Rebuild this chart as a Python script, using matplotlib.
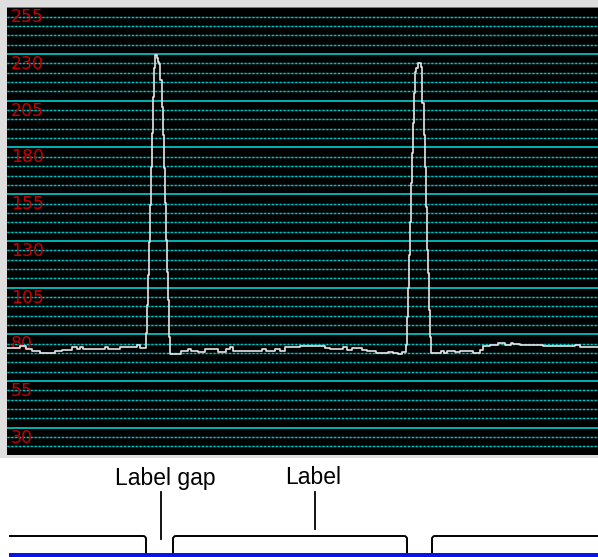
import numpy as np
import matplotlib
matplotlib.use("Agg")
import matplotlib.pyplot as plt
from matplotlib.path import Path
from matplotlib.patches import PathPatch, Rectangle

# signal trace: sample index where a level starts, and the level
trace_t = [0, 13, 19, 25, 33, 48, 55, 65, 70, 73, 76, 98, 101, 113, 130, 133,
           139, 140, 141, 142, 143, 144, 145, 146, 147, 148, 150, 151, 152, 153,
           155, 156, 157, 158, 159, 160, 161, 162, 163,
           174, 181, 184, 191, 198, 211, 219, 223, 226, 255, 259, 268, 273, 278,
           293, 318, 323, 336, 340, 345, 355, 360, 369, 381, 386, 391, 395, 399,
           400, 401, 402, 403, 404, 405, 406, 407, 408, 409, 411, 414, 415, 417,
           418, 419, 420, 421, 422, 423, 424,
           434, 437, 440, 448, 453, 466, 473, 476, 483, 491, 498, 504, 506, 513,
           528, 536, 541, 568, 573, 591]
trace_v = [72.6, 73.7, 72.1, 71.0, 70.0, 71.0, 71.6, 73.2, 72.1, 73.2, 72.1, 73.2, 72.1, 73.2, 74.3, 72.6,
           80.7, 95.7, 111.7, 129.4, 149.2, 169.5, 187.7, 207.0, 222.5, 229.5, 227.9, 225.7, 224.6, 216.1,
           201.6, 186.7, 169.0, 150.3, 130.5, 113.4, 98.4, 78.6, 69.4,
           71.0, 72.4, 71.0, 70.5, 72.1, 70.8, 72.1, 73.2, 71.3, 72.4, 71.3, 72.4, 71.3, 73.2,
           74.0, 72.9, 72.4, 73.2, 71.8, 72.6, 71.8, 71.3, 70.0, 70.5, 70.0, 69.2, 70.5, 74.3,
           89.2, 104.8, 122.4, 140.1, 161.0, 177.0, 193.1, 209.1, 220.4, 222.5, 225.2, 223.0, 203.8, 186.7,
           169.5, 148.1, 125.1, 112.8, 93.0, 78.6, 70.0,
           71.0, 70.0, 71.0, 70.5, 71.3, 70.2, 71.6, 73.7, 74.3, 75.1, 74.5, 75.6, 74.8, 74.3,
           74.5, 73.5, 73.7, 74.5, 73.2, 73.2]

major_levels = list(range(30, 256, 25))
minor_levels = [v for v in range(20, 255, 5) if v not in major_levels]

# label strip below the chart
tab_spans = [(-10, 139), (166, 400), (425, 620)]
notes = [("Label gap", 154, 158, 539), ("Label", 308, 306, 529)]

W, H = 598, 557
fig = plt.figure(figsize=(W / 100, H / 100), dpi=100)
fig.patch.set_facecolor("white")

# grey frame around the scope panel
fig.patches.append(Rectangle((0, (H - 458) / H), 1, 458 / H, transform=fig.transFigure,
                             facecolor="#dedede", edgecolor="none", zorder=-1))

ax = fig.add_axes([7 / W, (H - 455) / H, 591 / W, 448 / H])
ax.set_zorder(2)
ax.set_facecolor("black")
ax.set_xlim(0, 591)
ax.set_ylim(15.4, 255.2)
ax.set_xticks([])
ax.set_yticks([])
for s in ax.spines.values():
    s.set_visible(False)

for v in minor_levels:
    ax.axhline(v, color="#004c4c", lw=1.0, zorder=1)
    ax.axhline(v, color="#00c8c8", lw=1.0, ls=(0, (1.4, 1.4)), zorder=1)
for v in major_levels:
    ax.axhline(v, color="#00c0c0", lw=1.3, zorder=2)
    ax.annotate(str(v), xy=(0, v), xytext=(4, -1), textcoords="offset pixels",
                ha="left", va="top", color="#c80000", fontsize=12.5,
                family=["Liberation Sans Narrow", "DejaVu Sans"], zorder=3)

ax.step(trace_t, trace_v, where="post", color="#e6e6e6", lw=1.2, zorder=4)

# bottom strip in pixel units
bx = fig.add_axes([9 / W, 0, 589 / W, 99 / H])
bx.set_zorder(2)
bx.set_xlim(2, 591)
bx.set_ylim(557, 458)
bx.axis("off")

bx.add_patch(Rectangle((-20, 553), 700, 4, facecolor="#0a14e6", edgecolor="none", zorder=1))
r = 3
for x0, x1 in tab_spans:
    verts = [(x0, 553), (x0, 536 + r), (x0, 536), (x0 + r, 536),
             (x1 - r, 536), (x1, 536), (x1, 536 + r), (x1, 553)]
    codes = [Path.MOVETO, Path.LINETO, Path.CURVE3, Path.CURVE3,
             Path.LINETO, Path.CURVE3, Path.CURVE3, Path.LINETO]
    bx.add_patch(PathPatch(Path(verts, codes), facecolor="white", edgecolor="black",
                           lw=1.4, zorder=2))

for text, x, tx, yend in notes:
    bx.plot([x, x], [492, yend], color="black", lw=1.3, zorder=3)
    bx.text(tx, 478, text, ha="center", va="center", fontsize=16.5,
            family=["Liberation Sans", "DejaVu Sans"], color="black")

fig.savefig("out.png", dpi=100)
